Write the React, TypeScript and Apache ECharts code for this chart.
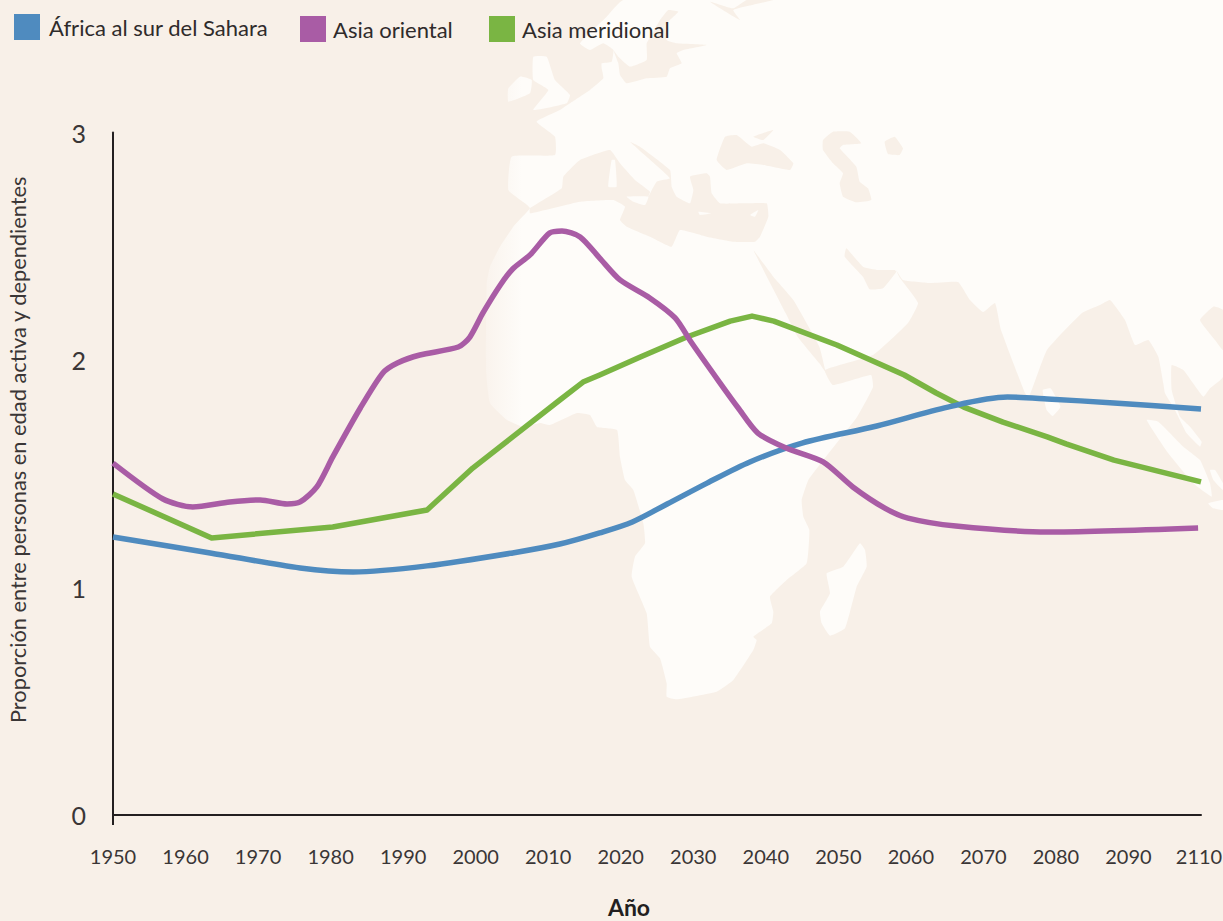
import React, { useEffect, useRef } from "react";
import * as echarts from "echarts";

const FONT = "Lato";
const BG = "#f8f0e8";
const LAND = "#fefcf9";

const seriesNames = ["África al sur del Sahara", "Asia oriental", "Asia meridional"];
const tickYears = [1950, 1960, 1970, 1980, 1990, 2000, 2010, 2020, 2030, 2040, 2050, 2060, 2070, 2080, 2090, 2100];
// The source chart labels its last tick "2110" although it follows 2090 directly.
const lastTickLabel = "2110";

const africaYears = [1950, 1963.4, 1975.8, 1983.1, 1993.3, 2005.1, 2011.6, 2017.1, 2021.6, 2026.4, 2031.9, 2037.8, 2045, 2055.3, 2065.1, 2073.3, 2078.8, 2088, 2100];
const africaValues = [1.222, 1.152, 1.086, 1.068, 1.095, 1.152, 1.191, 1.24, 1.288, 1.367, 1.459, 1.552, 1.635, 1.71, 1.793, 1.837, 1.829, 1.811, 1.785];

const eastYears = [1950, 1956.9, 1961, 1966.1, 1970.3, 1974, 1975.8, 1978.1, 1980.3, 1984.1, 1987.2, 1989.2, 1992.3, 1997.6, 1999.2, 2001, 2003.4, 2005.1, 2007.5, 2010.2, 2011.9, 2014.4, 2017.1, 2019.9, 2024, 2027.5, 2029.7, 2033.6, 2036.2, 2038.9, 2042.8, 2047.9, 2052, 2056.4, 2059.6, 2066.2, 2078.8, 2099.6];
const eastValues = [1.547, 1.389, 1.354, 1.376, 1.385, 1.367, 1.376, 1.442, 1.574, 1.789, 1.943, 1.987, 2.022, 2.057, 2.101, 2.207, 2.33, 2.4, 2.462, 2.558, 2.567, 2.541, 2.448, 2.352, 2.273, 2.185, 2.079, 1.903, 1.789, 1.679, 1.613, 1.552, 1.442, 1.349, 1.305, 1.27, 1.244, 1.262];

const southYears = [1950, 1963.6, 1980.3, 1993.3, 1999.6, 2005.1, 2011.6, 2014.8, 2017.1, 2022.7, 2029.1, 2035.1, 2038.1, 2041.1, 2049.8, 2059.1, 2063.5, 2067.3, 2072.7, 2078.8, 2081.4, 2088, 2100];
const southValues = [1.411, 1.218, 1.266, 1.341, 1.525, 1.662, 1.824, 1.903, 1.934, 2.013, 2.101, 2.171, 2.193, 2.171, 2.066, 1.934, 1.855, 1.793, 1.727, 1.662, 1.631, 1.56, 1.464];

const zip = (xs: number[], ys: number[]) => xs.map((x, i) => [x, ys[i]]);

// Decorative backdrop map: crop-space helpers
type P = [number, number][];
const z6 = (p: P): P => p.map(([x, y]) => [480 + x / 3, y / 3]);
const z7 = (p: P): P => p.map(([x, y]) => [823 + x / 3, y / 3]);
const z8 = (p: P): P => p.map(([x, y]) => [600 + x / 3, 480 + y / 3]);
const z9 = (p: P): P => p.map(([x, y]) => [1100 + x / 3, 270 + y / 3]);
const z5 = (p: P): P => p.map(([x, y]) => [600 + x / 2.53, 280 + y / 3]);
const z10 = (p: P): P => p.map(([x, y]) => [570 + x / 3, y / 3]);

const mainLand: P = [
  ...z10([[160, 0], [110, 50], [30, 130], [60, 150], [100, 130], [130, 150], [125, 185], [95, 190], [95, 205], [100, 235]]),
  ...z6([[330, 270], [270, 310], [240, 330], [170, 365], [225, 410], [225, 465], [95, 470], [85, 570], [135, 610], [150, 625], [100, 680], [60, 740], [30, 800], [20, 850]]),
  [486, 370], [490, 403], [507, 420], [523, 427], [540, 423], [550, 425], [577, 413], [590, 415], [597, 427], [617, 430], [620, 457], [625, 480],
  ...z8([[100, 30], [130, 130], [135, 190], [105, 230], [95, 290], [140, 400], [150, 500], [180, 535], [200, 610], [200, 650], [230, 658], [350, 635], [400, 600], [460, 510], [470, 480], [460, 470], [515, 430], [520, 395], [510, 350], [560, 300], [620, 250], [628, 150], [610, 110], [605, 60], [625, 0]]),
  [821, 463], [857, 417], [873, 387], [871, 375], [833, 385], [825, 370],
  [873, 355], [908, 323], [918, 303], [900, 278], [896, 270], [903, 280], [930, 283], [958, 282], [970, 300], [983, 312], [995, 303], [1001, 330], [1025, 393], [1029, 397], [1047, 350], [1082, 313],
  ...z9([[0, 105], [30, 90], [75, 150], [105, 225], [145, 210], [175, 260], [190, 340], [195, 370], [225, 420], [260, 490], [300, 530], [305, 515], [270, 470], [240, 440], [215, 360], [215, 285], [250, 300], [310, 380], [330, 355], [369, 320]]),
  [1223, 0],
];

const seas: P[] = [
  z6([[150, 625], [245, 565], [250, 530], [300, 480], [390, 450], [420, 490], [465, 540], [510, 575], [505, 590], [530, 545], [570, 535], [500, 470], [450, 425], [480, 440], [570, 510], [575, 560], [590, 590], [630, 610], [640, 570], [630, 530], [680, 520], [690, 530], [695, 580], [720, 610], [790, 610], [860, 610], [865, 650], [840, 710], [825, 725], [760, 725], [680, 710], [600, 690], [575, 740], [510, 710], [440, 680], [420, 660], [435, 620], [400, 600], [300, 605], [150, 640]]),
  z6([[710, 480], [735, 410], [770, 405], [815, 440], [850, 430], [900, 450], [940, 490], [930, 510], [850, 495], [800, 490], [740, 510]]),
  z6([[820, 410], [880, 390], [850, 420]]),
  z10([[295, 30], [325, 35], [285, 75], [290, 120], [320, 130], [410, 135], [340, 150], [320, 160], [335, 190], [300, 205], [290, 230], [230, 235], [170, 250], [150, 225], [145, 190], [130, 150], [145, 170], [180, 200], [230, 180], [230, 130], [250, 95], [270, 60]]),
  z6([[690, 5], [780, 60], [760, 30], [880, 0], [800, 0], [760, 25]]),
  z7([[0, 420], [30, 395], [80, 395], [115, 430], [60, 435], [50, 445], [100, 500], [110, 545], [135, 565], [145, 600], [100, 607], [60, 590], [50, 550], [60, 520], [30, 490], [0, 450]]),
  z7([[185, 425], [215, 410], [240, 445], [230, 465], [195, 462]]),
  z7([[70, 745], [120, 800], [165, 810], [215, 810], [220, 815], [180, 865], [140, 868], [120, 830], [65, 770]]),
  [...z6([[820, 750], [850, 790], [880, 830], [940, 900]]), ...z5([[555, 200], [570, 270], [575, 285], [555, 250], [500, 170], [470, 100]])],
  z9([[300, 150], [340, 110], [369, 120], [369, 240], [345, 210]]),
];

const islands: P[] = [
  z6([[160, 170], [200, 170], [225, 240], [270, 285], [260, 310], [160, 330], [205, 270], [160, 240]]),
  z6([[85, 265], [120, 230], [155, 240], [150, 280], [85, 305]]),
  z6([[395, 480], [405, 480], [410, 560], [385, 560]]),
  z6([[440, 590], [505, 590], [495, 615], [460, 605]]),
  z6([[655, 635], [695, 640], [660, 645]]),
  z6([[810, 645], [835, 630], [825, 650]]),
  z8([[780, 190], [795, 210], [800, 260], [770, 320], [735, 445], [690, 467], [665, 430], [660, 395], [690, 340], [680, 280], [730, 260]]),
  z5([[1120, 330], [1140, 325], [1165, 380], [1145, 408], [1130, 390]]),
  z9([[140, 450], [175, 455], [250, 530], [300, 570], [330, 640], [335, 680], [280, 640], [205, 550]]),
  z9([[325, 700], [369, 690], [369, 720], [340, 715]]),
  z9([[330, 600], [345, 600], [369, 640], [369, 660], [340, 630]]),
];

export default function App() {
  const ref = useRef<HTMLDivElement>(null);
  useEffect(() => {
    document.body.style.margin = "0";
    document.body.style.background = BG;
    const chart = echarts.init(ref.current!, undefined, { renderer: "svg" });
    const fade = new echarts.graphic.LinearGradient(470, 0, 522, 0, [
      { offset: 0, color: BG },
      { offset: 1, color: LAND },
    ], true);
    const poly = (points: P, fill: any) => ({ type: "polygon", silent: true, z: 0, shape: { points, smooth: 0.12 }, style: { fill } });
    const legendAt = (name: string, left: number, top: number, gap: number) => ({
      data: [name], left, top, icon: "rect", itemWidth: 26, itemHeight: 26, padding: 0,
      selectedMode: false,
      textStyle: { fontFamily: FONT, fontSize: 22, color: "#2f2b2b", padding: [4, 0, 0, gap] },
    });
    chart.setOption({
      animation: false,
      backgroundColor: BG,
      graphic: { elements: [poly(mainLand, fade), ...seas.map((s) => poly(s, BG)), ...islands.map((s) => poly(s, fade))] },
      legend: [
        legendAt(seriesNames[0], 14, 14, 4),
        legendAt(seriesNames[1], 300, 16, 2),
        legendAt(seriesNames[2], 489, 16, 2),
      ],
      grid: { left: 113, right: 22, top: 132.5, bottom: 106, outerBoundsMode: "none", containLabel: false },
      xAxis: {
        type: "value", min: tickYears[0], max: tickYears[tickYears.length - 1], interval: 10,
        name: "Año", nameLocation: "middle", nameGap: 80,
        nameTextStyle: { fontFamily: FONT, fontSize: 23, fontWeight: "bold", color: "#231f20", padding: [0, 56, 0, 0] },
        axisLine: { show: true, onZero: false, lineStyle: { color: "#231f20", width: 2 } },
        axisTick: { show: true, customValues: [tickYears[0]], length: 10, lineStyle: { color: "#231f20", width: 2 } },
        splitLine: { show: false },
        axisLabel: {
          margin: 31, fontFamily: FONT, fontSize: 20, color: "#3a3636", showMinLabel: true, showMaxLabel: true,
          rich: { end: { fontFamily: FONT, fontSize: 20, color: "#3a3636", padding: [0, 4, 0, 0] } },
          formatter: (v: number) => (v === tickYears[tickYears.length - 1] ? `{end|${lastTickLabel}}` : String(v)),
        },
      },
      yAxis: {
        type: "value", min: 0, max: 3, interval: 1,
        name: "Proporción entre personas en edad activa y dependientes", nameLocation: "middle", nameGap: 85,
        nameTextStyle: { fontFamily: FONT, fontSize: 21.8, color: "#3a3636", padding: [0, 0, 0, 48] },
        axisLine: { show: true, lineStyle: { color: "#231f20", width: 2 } },
        axisTick: { show: false },
        splitLine: { show: false },
        axisLabel: { margin: 27, fontFamily: FONT, fontSize: 25, color: "#3a3636" },
      },
      series: [
        { name: seriesNames[0], type: "line", color: "#4f8bbf", data: zip(africaYears, africaValues), smooth: 0.3, showSymbol: false, lineStyle: { width: 5.5, cap: "butt" }, z: 3 },
        { name: seriesNames[1], type: "line", color: "#a95ca5", data: zip(eastYears, eastValues), smooth: 0.25, showSymbol: false, lineStyle: { width: 5.5, cap: "butt" }, z: 4 },
        { name: seriesNames[2], type: "line", color: "#7ab543", data: zip(southYears, southValues), smooth: false, showSymbol: false, lineStyle: { width: 5.5, cap: "butt", join: "round" }, z: 2 },
      ],
    });
    return () => chart.dispose();
  }, []);
  return <div ref={ref} style={{ width: 1223, height: 921 }} />;
}
